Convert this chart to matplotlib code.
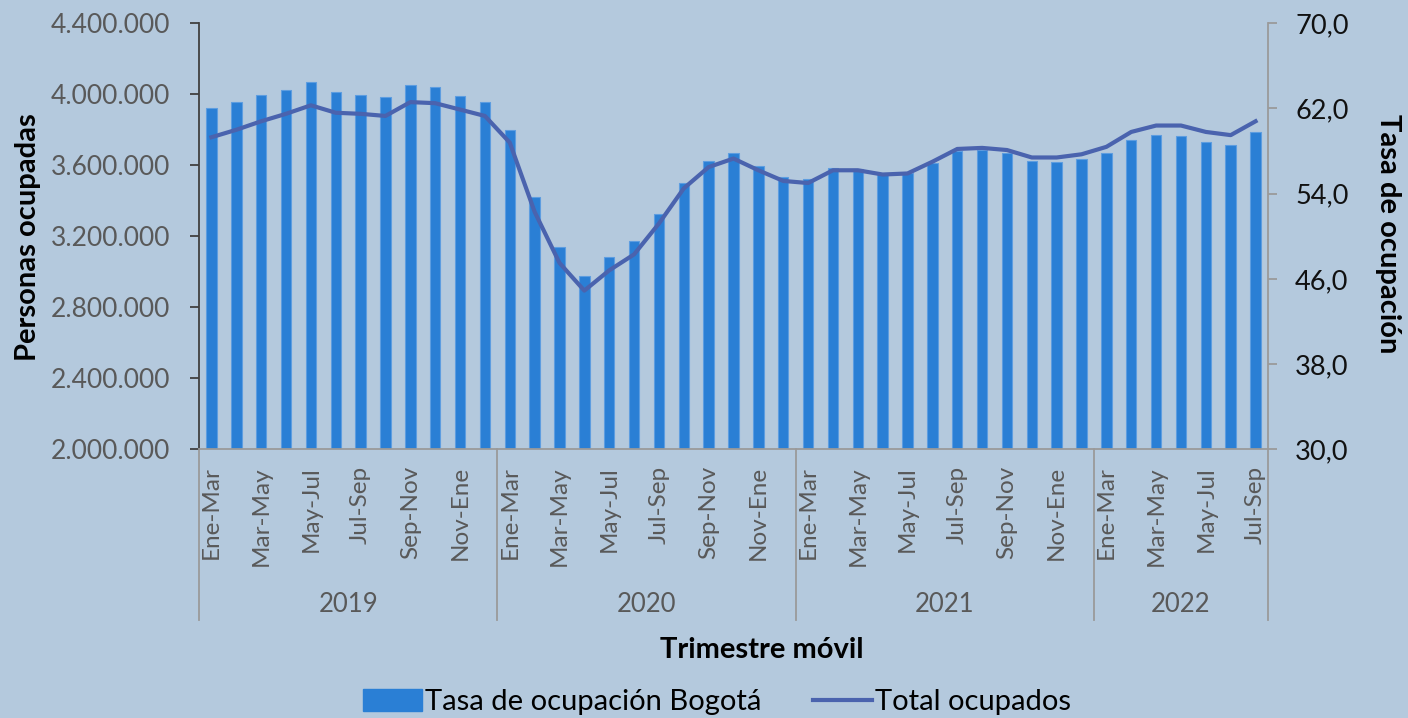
import numpy as np
import matplotlib
matplotlib.use('Agg')
import matplotlib.pyplot as plt
from matplotlib.ticker import FuncFormatter, FixedLocator
from matplotlib.transforms import blended_transform_factory
from matplotlib.patches import Patch
from matplotlib.lines import Line2D

plt.rcParams['font.family'] = ['Lato', 'DejaVu Sans']

meses = ['Ene-Mar', 'Feb-Abr', 'Mar-May', 'Abr-Jun', 'May-Jul', 'Jun-Ago',
         'Jul-Sep', 'Ago-Oct', 'Sep-Nov', 'Oct-Dic', 'Nov-Ene', 'Dic-Feb']
years = ['2019', '2020', '2021', '2022']
n_per_year = [12, 12, 12, 7]

# barras (eje izquierdo, personas ocupadas)
ocupados = [3921000, 3955000, 3998000, 4026000, 4069000, 4013000, 3998000, 3986000,
            4052000, 4041000, 3990000, 3955000,
            3799000, 3423000, 3140000, 2976000, 3082000, 3172000, 3326000, 3500000,
            3626000, 3669000, 3594000, 3534000,
            3521000, 3585000, 3581000, 3555000, 3555000, 3611000, 3681000, 3684000,
            3668000, 3624000, 3620000, 3636000,
            3671000, 3743000, 3771000, 3767000, 3731000, 3714000, 3788000]
# linea (eje derecho, tasa)
tasa = [59.3, 60.0, 60.8, 61.5, 62.3, 61.6, 61.5, 61.3, 62.6, 62.5, 61.9, 61.3,
        58.8, 52.3, 47.5, 44.9, 46.8, 48.3, 51.2, 54.5, 56.5, 57.3, 56.2, 55.2,
        55.0, 56.2, 56.2, 55.8, 55.9, 57.0, 58.2, 58.3, 58.1, 57.4, 57.4, 57.7,
        58.4, 59.8, 60.4, 60.4, 59.8, 59.5, 60.8]

labels = []
for n in n_per_year:
    labels += meses[:n]

bg = '#b4c9dd'
bar_color = '#2a7fd5'
line_color = '#4a63ae'
grey = '#595959'

fig = plt.figure(figsize=(14.08, 7.18), dpi=100)
fig.patch.set_facecolor(bg)
ax1 = fig.add_axes([199/1408, 1 - 449.3/718, (1268 - 199)/1408, 426/718])
ax1.set_facecolor(bg)
x = np.arange(len(ocupados))

ax1.bar(x, ocupados, width=0.42, color=bar_color, edgecolor='#5d9de0', linewidth=0.8, zorder=2)
ax1.set_xlim(-0.5, len(ocupados) - 0.5)
ax1.set_ylim(2000000, 4400000)
ax1.set_yticks(np.arange(2000000, 4400001, 400000))
ax1.yaxis.set_major_formatter(FuncFormatter(lambda v, p: '{:,.0f}'.format(v).replace(',', '.')))

ax2 = ax1.twinx()
ax2.plot(x, tasa, color=line_color, lw=3, solid_joinstyle='round', zorder=3)
ax2.set_ylim(30, 70)
ax2.set_yticks(np.arange(30, 71, 8))
ax2.yaxis.set_major_formatter(FuncFormatter(lambda v, p: '{:.1f}'.format(v).replace('.', ',')))

# ejes
for a in (ax1, ax2):
    a.spines['top'].set_visible(False)
ax1.spines['right'].set_visible(False)
ax1.spines['left'].set_color('#404040')
ax1.spines['left'].set_linewidth(1.3)
ax1.spines['bottom'].set_color('#9a9a9a')
ax1.spines['bottom'].set_linewidth(1.3)
ax2.spines['left'].set_visible(False)
ax2.spines['bottom'].set_visible(False)
ax2.spines['right'].set_color('#9a9a9a')
ax2.spines['right'].set_linewidth(1.3)

ax1.tick_params(axis='y', direction='out', length=6.5, width=1.3, color='#404040',
                labelsize=19, labelcolor=grey, pad=14)
ax2.tick_params(axis='y', direction='out', length=6.5, width=1.3, color='#9a9a9a',
                labelsize=19.5, labelcolor='#111111', pad=13)

ax1.xaxis.set_major_locator(FixedLocator(x[::2]))
ax1.set_xticklabels(labels[::2], rotation=90, fontsize=17.5, color=grey, va='top')
ax1.tick_params(axis='x', length=0, pad=12)

# separadores de año y etiquetas
trans = blended_transform_factory(ax1.transData, ax1.transAxes)
bounds = np.concatenate([[0], np.cumsum(n_per_year)]) - 0.5
for b in bounds:
    ax1.plot([b, b], [0, -0.40], color='#9a9a9a', lw=1.3, transform=trans, clip_on=False)
for i, yr in enumerate(years):
    ax1.text((bounds[i] + bounds[i + 1]) / 2, -0.365, yr, transform=trans,
             ha='center', va='center', fontsize=18.5, color=grey)

ax1.set_ylabel('Personas ocupadas', fontsize=21, fontweight='bold', color='black')
ax1.yaxis.set_label_coords(28/1408, 1 - 237/718, transform=fig.transFigure)
ax2.set_ylabel('Tasa de ocupación', fontsize=21, fontweight='bold', color='black', rotation=-90)
ax2.yaxis.set_label_coords(1388/1408, 1 - 234/718, transform=fig.transFigure)
ax1.yaxis.label.set_va('center')
ax2.yaxis.label.set_va('center')

fig.text(762/1408, 1 - 650/718, 'Trimestre móvil', fontsize=21, fontweight='bold',
         ha='center', va='center')

handles = [Patch(facecolor=bar_color, edgecolor=bar_color),
           Line2D([0], [0], color=line_color, lw=3)]
fig.legend(handles, ['Tasa de ocupación Bogotá', 'Total ocupados'], loc='center',
           bbox_to_anchor=(717/1408, 1 - 702/718), ncol=2, frameon=False, fontsize=21,
           handlelength=2.0, handletextpad=0.1, columnspacing=1.8, handleheight=0.8)

fig.savefig('out.png', dpi=100, facecolor=bg)
